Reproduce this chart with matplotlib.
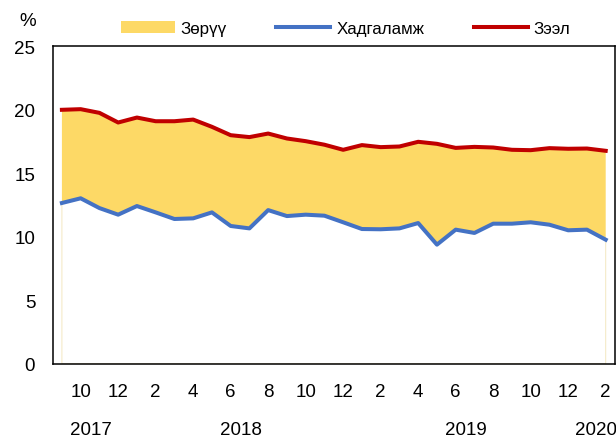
import numpy as np
import matplotlib
matplotlib.use('Agg')
import matplotlib.pyplot as plt
import matplotlib.transforms as mtransforms

plt.rcParams['font.family'] = ['Liberation Sans', 'DejaVu Sans']

# monthly, Sep 2017 .. Feb 2020
months = ['9', '10', '11', '12', '1', '2', '3', '4', '5', '6', '7', '8',
          '9', '10', '11', '12', '1', '2', '3', '4', '5', '6', '7', '8',
          '9', '10', '11', '12', '1', '2']
loans = [20.0, 20.05, 19.76, 19.0, 19.39, 19.1, 19.1, 19.23, 18.66, 18.0,
         17.85, 18.13, 17.74, 17.53, 17.25, 16.85, 17.22, 17.06, 17.11, 17.48,
         17.32, 17.0, 17.08, 17.03, 16.85, 16.82, 16.98, 16.93, 16.95, 16.77]
deposits = [12.66, 13.03, 12.26, 11.74, 12.42, 11.92, 11.4, 11.45, 11.92, 10.85,
            10.66, 12.1, 11.63, 11.74, 11.66, 11.14, 10.61, 10.59, 10.66, 11.08,
            9.38, 10.56, 10.3, 11.03, 11.03, 11.14, 10.95, 10.51, 10.56, 9.77]
years = ['2017', '2018', '2019', '2020']
year_pos = [1.55, 9.55, 21.55, 28.5]

loans = np.array(loans)
deposits = np.array(deposits)
spread = loans - deposits
x = np.arange(len(months))

fig = plt.figure(figsize=(6.16, 4.39), dpi=100)
ax = fig.add_axes([0.0865, 0.1692, 0.912, 0.723])

# stacked area: invisible deposits layer + spread on top
ax.fill_between(x, 0, deposits, facecolor='none', edgecolor='#f3e8c0', linewidth=0.7)
ax.fill_between(x, deposits, deposits + spread, facecolor='#FDD966', edgecolor='none', label='Зөрүү')
ax.plot(x, deposits, color='#4472C4', linewidth=2.9, label='Хадгаламж')
ax.plot(x, loans, color='#C00000', linewidth=2.9, label='Зээл')

ax.set_xlim(-0.46, 29.5)
ax.set_ylim(0, 25)
ax.set_yticks([0, 5, 10, 15, 20, 25])
ax.set_xticks(x[1::2])
ax.set_xticklabels(months[1::2])
ax.tick_params(axis='both', length=0, labelsize=13.5)
ax.tick_params(axis='y', pad=13)
ax.tick_params(axis='x', pad=14)
for spine in ax.spines.values():
    spine.set_linewidth(1.1)

trans = mtransforms.blended_transform_factory(ax.transData, ax.transAxes)
for yr, p in zip(years, year_pos):
    ax.text(p, -0.206, yr, transform=trans, ha='center', va='center', fontsize=13.5)

fig.text(28 / 616, 1 - 21 / 439, '%', ha='center', va='center', fontsize=13.5)

leg = fig.legend(loc='center left', bbox_to_anchor=(0.196, 0.932), ncol=3, frameon=False,
                 fontsize=12.2, handlelength=3.2, handletextpad=0.35, columnspacing=2.9,
                 borderpad=0, borderaxespad=0)

fig.savefig('out.png', dpi=100)
